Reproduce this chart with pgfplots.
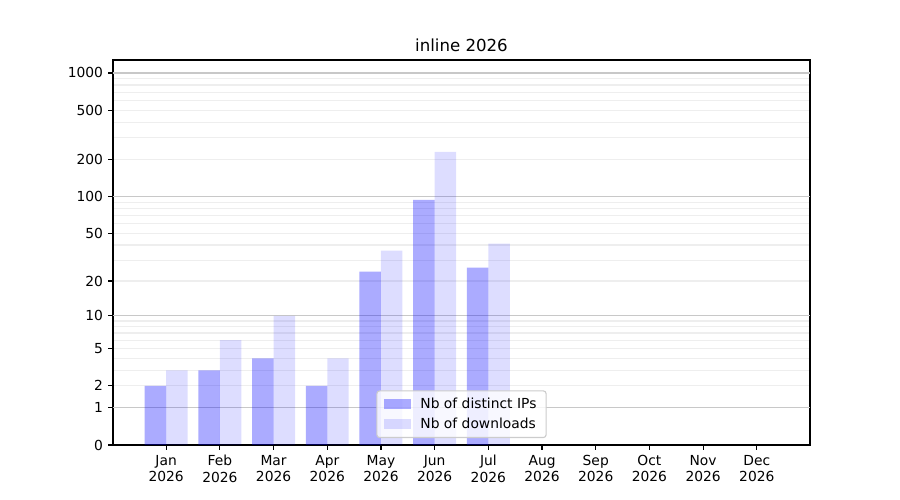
\documentclass[border=0pt]{standalone}
\usepackage{fontspec}
\setmainfont{DejaVu Sans}
\usepackage{pgfplots}
\pgfplotsset{compat=1.18}
\definecolor{mgrid}{HTML}{C8C8C8}
\definecolor{ngrid}{HTML}{EEEEEE}
\definecolor{legedge}{HTML}{CCCCCC}
\begin{document}
\begin{tikzpicture}[x=1in,y=1in]
\path (0,0) rectangle (9,5);
\begin{axis}[
  at={(1.13in,0.55in)}, anchor=south west,
  scale only axis, width=6.97in, height=3.85in,
  xmin=-0.99, xmax=11.99,
  ymin=0, ymax=1272,
  y coord trafo/.code={\pgfmathparse{log10(1+#1)}},
  y coord inv trafo/.code={\pgfmathparse{10^(#1)-1}},
  xtick={0,...,11},
  xticklabels={{Jan\\2026},{Feb\\2026},{Mar\\2026},{Apr\\2026},{May\\2026},{Jun\\2026},{Jul\\2026},{Aug\\2026},{Sep\\2026},{Oct\\2026},{Nov\\2026},{Dec\\2026}},
  xticklabel style={align=center, font=\fontsize{10}{12}\selectfont, inner sep=0pt, anchor=north},
  ytick={0,1,2,5,10,20,50,100,200,500,1000},
  yticklabels={0,1,2,5,10,20,50,100,200,500,1000},
  yticklabel style={font=\fontsize{10}{12}\selectfont, inner sep=0pt, anchor=east},
  xticklabel shift=3.5pt, yticklabel shift=3.5pt,
  minor ytick={2,3,4,5,6,7,8,9,20,30,40,50,60,70,80,90,200,300,400,500,600,700,800,900},
  ymajorgrids=false, yminorgrids=true,
  minor grid style={ngrid, line width=0.8pt},
  minor tick length=0pt,
  extra y ticks={1,10,100,1000},
  extra y tick labels={},
  extra y tick style={ymajorgrids=true, major grid style={mgrid, line width=0.8pt}, major tick length=0pt},
  tick align=outside, major tick length=3.5pt,
  xtick pos=bottom, ytick pos=left,
  tick style={black, line width=0.8pt},
  axis line style={black, line width=0.8pt},
  title={inline 2026},
  title style={at={(0.5,1)}, anchor=base, yshift=0pt, inner sep=0pt, font=\fontsize{12}{14}\selectfont},
  legend style={at={(0.5,0)}, anchor=south, yshift=5pt, draw=legedge, fill=white, fill opacity=0.8, draw opacity=1, text opacity=1, rounded corners=2pt, font=\fontsize{10}{12}\selectfont, inner xsep=5pt, inner ysep=3pt, row sep=1.5pt, column sep=4.5pt, line width=0.8pt, cells={anchor=west}},
  legend cell align=left,
  legend image code/.code={\fill[#1, sharp corners] (0pt,-3.5pt) rectangle (20pt,3.5pt);},
]
\addplot[ybar, bar width=0.4, bar shift=-0.2, draw=none, fill=blue, fill opacity=0.33] coordinates {
  (0,2) (1,3) (2,4) (3,2) (4,24) (5,94) (6,26) (7,0) (8,0) (9,0) (10,0) (11,0)};
\addlegendentry{Nb of distinct IPs}
\addplot[ybar, bar width=0.4, bar shift=0.2, draw=none, fill=blue, fill opacity=0.133] coordinates {
  (0,3) (1,6) (2,10) (3,4) (4,36) (5,230) (6,41) (7,0) (8,0) (9,0) (10,0) (11,0)};
\addlegendentry{Nb of downloads}
\end{axis}
\end{tikzpicture}
\end{document}
